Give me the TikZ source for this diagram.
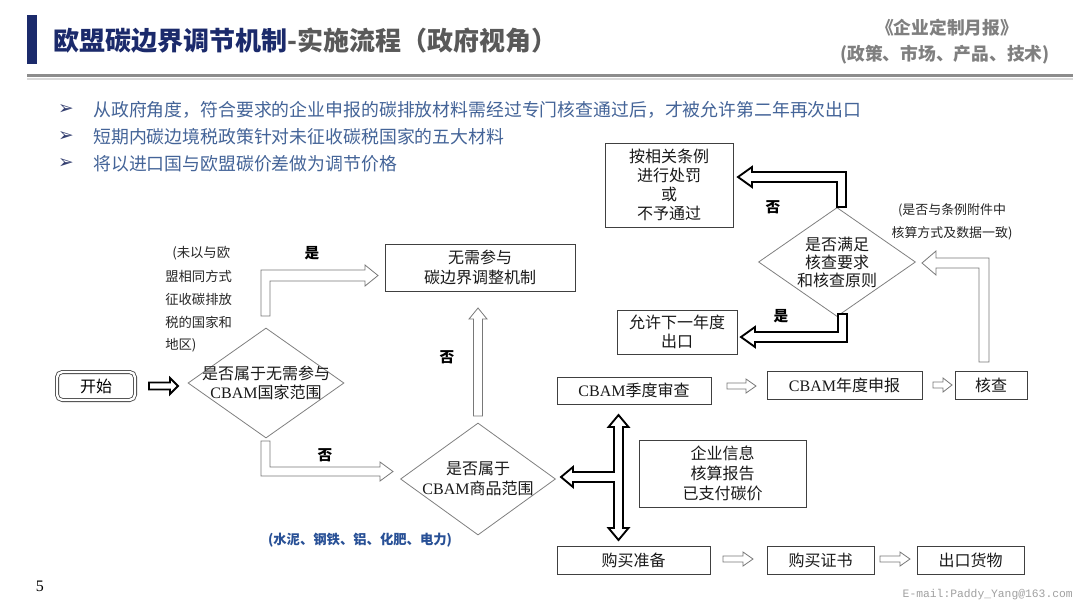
\documentclass[tikz,border=0pt]{standalone}
\usepackage{fontspec}
\setmainfont{Noto Sans CJK SC}
\newfontfamily\latf{Liberation Serif}
\newfontfamily\monof{Liberation Mono}
\newfontfamily\symf{DejaVu Sans}
\usetikzlibrary{shapes.geometric}
\definecolor{navy}{RGB}{27,42,107}
\definecolor{titlegray}{RGB}{89,89,89}
\definecolor{hdrgray}{RGB}{127,127,127}
\definecolor{bullblue}{RGB}{68,100,152}
\definecolor{matblue}{RGB}{40,80,150}
\definecolor{boxline}{RGB}{64,64,64}
\definecolor{dmline}{RGB}{128,128,128}
\definecolor{hollowline}{RGB}{120,120,120}
\definecolor{mailgray}{RGB}{160,160,160}
\begin{document}
\begin{tikzpicture}[x=0.75pt,y=-0.75pt,
  fbox/.style={draw=boxline, line width=0.6pt, inner sep=0pt, align=center,
    font=\fontsize{12}{14.5}\selectfont, text=black!90},
  dmd/.style={diamond, draw=dmline, line width=0.6pt, inner sep=0pt},
  dtext/.style={align=center, font=\fontsize{12}{14}\selectfont, inner sep=0pt, text=black!90},
  hollow/.style={draw=hollowline, line width=0.6pt, fill=white, line join=miter},
  solidarr/.style={draw=black, line width=1.4pt, fill=white, line join=miter},
  lbl/.style={font=\fontsize{11}{13}\bfseries\selectfont, inner sep=0pt},
  note/.style={font=\fontsize{10}{12}\selectfont, text=black!85, inner sep=0pt},
  bullet/.style={font=\fontsize{13.4}{16}\selectfont, text=bullblue, inner sep=0pt, anchor=west},
  bmark/.style={font=\symf\fontsize{14}{16}\selectfont, text=navy!75!gray, inner sep=0pt},
]
\useasboundingbox (0,0) rectangle (1080,608);
\fill[white] (0,0) rectangle (1080,608);

% header
\fill[navy] (27,15) rectangle (37,64);
\node[anchor=west, inner sep=0pt, font=\fontsize{19.5}{22}\bfseries\selectfont] (title) at (53,41)
  {{\color{navy}欧盟碳边界调节机制}{\color{titlegray}-实施流程（政府视角）}};
\node[inner sep=0pt, text=hdrgray, font=\fontsize{13.3}{15}\bfseries\selectfont] (rep1) at (947,28) {《企业定制月报》};
\node[inner sep=0pt, text=hdrgray, font=\fontsize{13.3}{15}\bfseries\selectfont] (rep2) at (945,55) {(政策、市场、产品、技术)};
\draw[line width=1.5pt, black!15] (27,78.5) -- (1073,78.5);
\draw[line width=2.2pt, black!45] (27,75.5) -- (1073,75.5);

% bullets
\node[bmark] (m1) at (66,110) {➢};
\node[bmark] (m2) at (66,137) {➢};
\node[bmark] (m3) at (66,164) {➢};
\node[bullet] (t1) at (93,110) {从政府角度，符合要求的企业申报的碳排放材料需经过专门核查通过后，才被允许第二年再次出口};
\node[bullet] (t2) at (93,137) {短期内碳边境税政策针对未征收碳税国家的五大材料};
\node[bullet] (t3) at (93,164) {将以进口国与欧盟碳价差做为调节价格};

% nodes
\node[draw=boxline, line width=0.6pt, double, double distance=1.8pt, rounded corners=4pt,
  minimum width=58.5pt, minimum height=21pt, inner sep=0pt, font=\fontsize{12}{14}\selectfont] (start) at (96,386) {开始};

\node[dmd, minimum width=117pt, minimum height=82.5pt] (d1) at (266,383) {};
\node[dtext] (d1t) at (d1.center) {是否属于无需参与\\{\latf CBAM}国家范围};

\node[dmd, minimum width=116.25pt, minimum height=84pt] (d2) at (478,479) {};
\node[dtext, font=\fontsize{12}{15}\selectfont] (d2t) at (d2.center) {是否属于\\{\latf CBAM}商品范围};

\node[dmd, minimum width=117.75pt, minimum height=81.75pt] (d3) at (837,262) {};
\node[dtext, font=\fontsize{12}{13.5}\selectfont] (d3t) at (d3.center) {是否满足\\核查要求\\和核查原则};

\node[fbox, minimum width=142.5pt, minimum height=35.25pt] (bno) at (480,267.5) {无需参与\\碳边界调整机制};
\node[fbox, minimum width=96pt, minimum height=63pt, font=\fontsize{12}{14.2}\selectfont] (bpen) at (669,185) {按相关条例\\进行处罚\\或\\不予通过};
\node[fbox, minimum width=90pt, minimum height=33pt] (ballow) at (677,332) {允许下一年度\\出口};
\node[fbox, minimum width=115.5pt, minimum height=20.25pt] (bq) at (634,390.5) {{\latf CBAM}季度审查};
\node[fbox, minimum width=116.25pt, minimum height=21pt] (by) at (844.5,385) {{\latf CBAM}年度申报};
\node[fbox, minimum width=54pt, minimum height=21pt] (bchk) at (991,385) {核查};
\node[fbox, minimum width=125.25pt, minimum height=50.25pt, font=\fontsize{12}{15}\selectfont] (binfo) at (722.5,473.5) {企业信息\\核算报告\\已支付碳价};
\node[fbox, minimum width=114.75pt, minimum height=21pt] (bbuy) at (633.5,560) {购买准备};
\node[fbox, minimum width=80.25pt, minimum height=21pt] (bcert) at (820.5,560) {购买证书};
\node[fbox, minimum width=80.25pt, minimum height=21pt] (bexp) at (970.5,560) {出口货物};

% block arrows
% start -> d1
\draw[solidarr] (149,382.5) -- (170,382.5) -- (170,378) -- (178,386) -- (170,394) -- (170,389.5) -- (149,389.5) -- cycle;
% d1 -> bno (yes)
\draw[hollow] (261,316) -- (261,270) -- (365,270) -- (365,265) -- (378,275.5) -- (365,286) -- (365,281) -- (270,281) -- (270,316) -- cycle;
% d1 -> d2 (no)
\draw[hollow] (261,441) -- (261,476) -- (380,476) -- (380,481) -- (393,471.5) -- (380,462) -- (380,467) -- (270,467) -- (270,441) -- cycle;
% d2 -> bno (no)
\draw[hollow] (473.5,416) -- (473.5,319) -- (469,319) -- (478,308) -- (487,319) -- (482.5,319) -- (482.5,416) -- cycle;
% d3 -> bpen (no)
\draw[solidarr] (846,207) -- (846,172) -- (752,172) -- (752,167) -- (738,177) -- (752,187) -- (752,182) -- (837,182) -- (837,207) -- cycle;
% d3 -> ballow (yes)
\draw[solidarr] (838,314) -- (838,332) -- (755,332) -- (755,327) -- (741,337) -- (755,347) -- (755,342) -- (847,342) -- (847,314) -- cycle;
% bchk -> d3
\draw[hollow] (979,362) -- (979,268) -- (936,268) -- (936,275) -- (922,263) -- (936,251) -- (936,258) -- (989,258) -- (989,362) -- cycle;
% T arrow
\draw[solidarr] (618.5,415) -- (628.5,427) -- (623,427) -- (623,528) -- (628.5,528) -- (618.5,540) -- (608.5,528) -- (614,528) -- (614,482) -- (573,482) -- (573,487) -- (561,477) -- (573,467) -- (573,472) -- (614,472) -- (614,427) -- (608.5,427) -- cycle;
% row arrows
\draw[hollow] (727,383) -- (746,383) -- (746,379) -- (756,386) -- (746,393) -- (746,389) -- (727,389) -- cycle;
\draw[hollow] (933,382) -- (943,382) -- (943,378) -- (952,385) -- (943,392) -- (943,388) -- (933,388) -- cycle;
\draw[hollow] (723,556) -- (743,556) -- (743,552) -- (753,559) -- (743,566) -- (743,562) -- (723,562) -- cycle;
\draw[hollow] (880,556) -- (900,556) -- (900,552) -- (910,559) -- (900,566) -- (900,562) -- (880,562) -- cycle;

% labels
\node[lbl] (l1) at (312,253) {是};
\node[lbl] (l2) at (447,357) {否};
\node[lbl] (l3) at (325,455) {否};
\node[lbl] (l4) at (773,207) {否};
\node[lbl] (l5) at (781,316) {是};

% notes
\node[note, anchor=west] (n1) at (172,253) {(未以与欧};
\node[note, anchor=west] (n2) at (165,276) {盟相同方式};
\node[note, anchor=west] (n3) at (165,299) {征收碳排放};
\node[note, anchor=west] (n4) at (165,322) {税的国家和};
\node[note, anchor=west] (n5) at (165,345) {地区)};
\node[note, font=\fontsize{9.7}{12}\selectfont] (r1) at (952,210) {(是否与条例附件中};
\node[note, font=\fontsize{9.7}{12}\selectfont] (r2) at (952,233) {核算方式及数据一致)};
\node[inner sep=0pt, text=matblue, font=\fontsize{10}{12}\bfseries\selectfont] (mat) at (360,540) {(水泥、钢铁、铝、化肥、电力)};

% footer
\node[inner sep=0pt, font=\latf\fontsize{12}{14}\selectfont] (pg) at (40,586) {5};
\node[inner sep=0pt, anchor=east, text=mailgray, font=\monof\fontsize{8.5}{10}\selectfont] (mail) at (1073,595) {E-mail:Paddy\_Yang@163.com};
\end{tikzpicture}
\end{document}
